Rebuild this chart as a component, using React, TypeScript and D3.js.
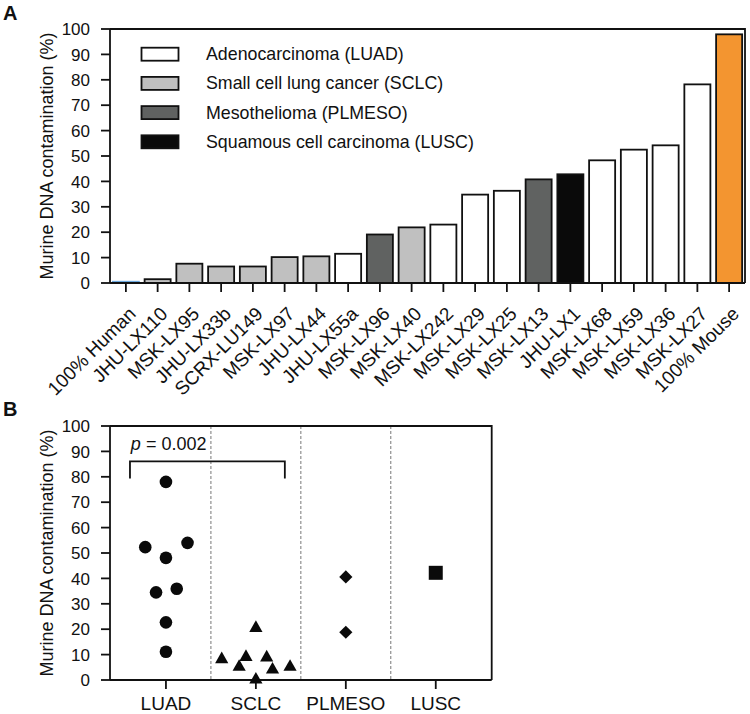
import React, { useEffect } from "react";
import * as d3 from "d3";

// ---------- Panel A data ----------
const barCategories = [
  "100% Human", "JHU-LX110", "MSK-LX95", "JHU-LX33b", "SCRX-LU149", "MSK-LX97",
  "JHU-LX44", "JHU-LX55a", "MSK-LX96", "MSK-LX40", "MSK-LX242", "MSK-LX29",
  "MSK-LX25", "MSK-LX13", "JHU-LX1", "MSK-LX68", "MSK-LX59", "MSK-LX36",
  "MSK-LX27", "100% Mouse",
];
const barValues = [
  0.5, 1.5, 7.6, 6.5, 6.5, 10.2, 10.5, 11.5, 19.1, 21.9, 23.0, 34.8, 36.3, 40.8,
  42.8, 48.3, 52.5, 54.2, 78.2, 97.9,
];
const barTypes = [
  "Human", "SCLC", "SCLC", "SCLC", "SCLC", "SCLC", "SCLC", "LUAD", "PLMESO", "SCLC",
  "LUAD", "LUAD", "LUAD", "PLMESO", "LUSC", "LUAD", "LUAD", "LUAD", "LUAD", "Mouse",
];
const legendLabels = [
  "Adenocarcinoma (LUAD)",
  "Small cell lung cancer (SCLC)",
  "Mesothelioma (PLMESO)",
  "Squamous cell carcinoma (LUSC)",
];
const legendTypes = ["LUAD", "SCLC", "PLMESO", "LUSC"];
const yTicks = [0, 10, 20, 30, 40, 50, 60, 70, 80, 90, 100];

// ---------- Panel B data ----------
const groupCategories = ["LUAD", "SCLC", "PLMESO", "LUSC"];
const luadValues = [78.0, 52.3, 48.1, 54.0, 34.5, 35.9, 22.7, 11.1];
const luadJitter = [0, -0.23, 0, 0.24, -0.11, 0.12, 0, 0];
const sclcValues = [8.9, 5.9, 9.8, 21.2, 9.6, 4.8, 5.9, 0.9];
const sclcJitter = [-0.38, -0.186, -0.11, 0, 0.12, 0.185, 0.38, 0];
const plmesoValues = [40.6, 18.8];
const plmesoJitter = [0, 0];
const luscValues = [42.2];
const luscJitter = [0];
const pValueLabel = "0.002";
const bracketTop = 86.1;
const bracketBottom = 79.3;
const pLabelY = 90.7;

const FONT = "'Liberation Sans', Arial, Helvetica, sans-serif";
const INK = "#111";
const SW = 1.8;

const typeFill: Record<string, string> = {
  LUAD: "#ffffff",
  SCLC: "#c0c0c0",
  PLMESO: "#606261",
  LUSC: "#0a0a0a",
  Human: "#6ba7dd",
  Mouse: "#f39530",
};

const markerShape: Record<string, string> = {
  LUAD: "circle",
  SCLC: "triangle",
  PLMESO: "diamond",
  LUSC: "square",
};

function markerPath(shape: string, x: number, y: number): string {
  if (shape === "circle") {
    const r = 6.3;
    return `M${x - r},${y}a${r},${r} 0 1,0 ${2 * r},0a${r},${r} 0 1,0 ${-2 * r},0Z`;
  }
  if (shape === "triangle") {
    const hw = 6.6, hh = 5.8;
    return `M${x},${y - hh}L${x + hw},${y + hh}L${x - hw},${y + hh}Z`;
  }
  if (shape === "diamond") {
    const d = 6.6;
    return `M${x},${y - d}L${x + d},${y}L${x},${y + d}L${x - d},${y}Z`;
  }
  const s = 7;
  return `M${x - s},${y - s}H${x + s}V${y + s}H${x - s}Z`;
}

export default function App() {
  useEffect(() => {
    document.body.style.margin = "0";
  }, []);

  // Panel A scales
  const xA = d3.scaleBand<string>().domain(barCategories).range([110, 745]).paddingInner(0.18).paddingOuter(0.09);
  const yA = d3.scaleLinear().domain([0, 100]).range([283, 29]);

  // Panel B scales
  const xB = d3.scaleBand<string>().domain(groupCategories).range([110, 491.7]).paddingInner(0).paddingOuter(0.122);
  const yB = d3.scaleLinear().domain([0, 100]).range([680, 426]);

  const groups = [
    { cat: "LUAD", values: luadValues, jitter: luadJitter },
    { cat: "SCLC", values: sclcValues, jitter: sclcJitter },
    { cat: "PLMESO", values: plmesoValues, jitter: plmesoJitter },
    { cat: "LUSC", values: luscValues, jitter: luscJitter },
  ];

  const bw = xB.bandwidth();
  const cx = (c: string) => (xB(c) as number) + bw / 2;

  const axisTitle = "Murine DNA contamination (%)";

  return (
    <svg
      width={750}
      height={714}
      style={{ position: "absolute", left: 0, top: 0, background: "#fff" }}
      fontFamily={FONT}
      fill={INK}
    >
      <rect x={0} y={0} width={750} height={714} fill="#fff" />
      {/* Panel labels */}
      <text x={3} y={20} fontSize={20} fontWeight="bold">A</text>
      <text x={3} y={416} fontSize={20} fontWeight="bold">B</text>

      {/* ===== Panel A ===== */}
      <g>
        {barCategories.map((c, i) => {
          const t = barTypes[i];
          const x0 = xA(c) as number;
          const y0 = yA(barValues[i]);
          const isHuman = t === "Human";
          return (
            <rect
              key={c}
              x={x0}
              y={y0}
              width={xA.bandwidth()}
              height={yA(0) - y0}
              fill={typeFill[t]}
              stroke={isHuman ? typeFill[t] : INK}
              strokeWidth={SW}
            />
          );
        })}
        {/* frame */}
        <path d={`M${xA.range()[0]},${yA(100)}H${xA.range()[1]}V${yA(0)}`} fill="none" stroke={INK} strokeWidth={SW} />
        <line x1={110} x2={110} y1={yA(0)} y2={yA(100)} stroke={INK} strokeWidth={SW} />
        <line x1={110} x2={745} y1={yA(0)} y2={yA(0)} stroke={INK} strokeWidth={SW} />
        {yTicks.map((t) => (
          <g key={t}>
            <line x1={101} x2={110} y1={yA(t)} y2={yA(t)} stroke={INK} strokeWidth={SW} />
            <text x={90} y={yA(t)} dy="0.36em" fontSize={17} textAnchor="end">{t}</text>
          </g>
        ))}
        {barCategories.map((c) => {
          const x = (xA(c) as number) + xA.bandwidth() / 2;
          return (
            <g key={c}>
              <line x1={x} x2={x} y1={yA(0)} y2={yA(0) + 9} stroke={INK} strokeWidth={SW} />
              <text
                transform={`translate(${x + 11},${yA(0) + 32}) rotate(-45)`}
                fontSize={19}
                textAnchor="end"
              >
                {c}
              </text>
            </g>
          );
        })}
        <text
          transform={`translate(53,${(yA(0) + yA(100)) / 2}) rotate(-90)`}
          fontSize={18}
          textAnchor="middle"
        >
          {axisTitle}
        </text>
        {/* legend */}
        {legendLabels.map((l, i) => {
          const cy = 54.2 + i * 29.2;
          return (
            <g key={l}>
              <rect x={141.5} y={cy - 6.5} width={37} height={13} fill={typeFill[legendTypes[i]]} stroke={INK} strokeWidth={SW} />
              <text x={206} y={cy + 6} fontSize={17.8}>{l}</text>
            </g>
          );
        })}
      </g>

      {/* ===== Panel B ===== */}
      <g>
        {/* dashed separators */}
        {groupCategories.slice(1).map((c) => (
          <line
            key={c}
            x1={xB(c) as number}
            x2={xB(c) as number}
            y1={yB(100)}
            y2={yB(0)}
            stroke="#777"
            strokeWidth={1}
            strokeDasharray="3,2"
          />
        ))}
        <path d={`M110,${yB(100)}H${xB.range()[1]}V${yB(0)}`} fill="none" stroke={INK} strokeWidth={SW} />
        <line x1={110} x2={110} y1={yB(0)} y2={yB(100)} stroke={INK} strokeWidth={SW} />
        <line x1={110} x2={xB.range()[1]} y1={yB(0)} y2={yB(0)} stroke={INK} strokeWidth={SW} />
        {yTicks.map((t) => (
          <g key={t}>
            <line x1={101} x2={110} y1={yB(t)} y2={yB(t)} stroke={INK} strokeWidth={SW} />
            <text x={90} y={yB(t)} dy="0.36em" fontSize={17} textAnchor="end">{t}</text>
          </g>
        ))}
        {groupCategories.map((c) => (
          <g key={c}>
            <line x1={cx(c)} x2={cx(c)} y1={yB(0)} y2={yB(0) + 9} stroke={INK} strokeWidth={SW} />
            <text x={cx(c)} y={710} fontSize={19} textAnchor="middle">{c}</text>
          </g>
        ))}
        <text
          transform={`translate(53,${(yB(0) + yB(100)) / 2}) rotate(-90)`}
          fontSize={18}
          textAnchor="middle"
        >
          {axisTitle}
        </text>
        {/* points */}
        {groups.map((g) =>
          g.values.map((v, i) => (
            <path
              key={g.cat + i}
              d={markerPath(markerShape[g.cat], cx(g.cat) + g.jitter[i] * bw, yB(v))}
              fill="#0a0a0a"
            />
          ))
        )}
        {/* significance bracket */}
        <path
          d={`M${cx("LUAD") - 0.4 * bw},${yB(bracketBottom)}V${yB(bracketTop)}H${cx("SCLC") + 0.322 * bw}V${yB(bracketBottom)}`}
          fill="none"
          stroke={INK}
          strokeWidth={SW}
        />
        <text x={cx("LUAD") - 0.39 * bw} y={yB(pLabelY)} fontSize={18}>
          <tspan fontStyle="italic">p</tspan>
          <tspan>{` = ${pValueLabel}`}</tspan>
        </text>
      </g>
    </svg>
  );
}
